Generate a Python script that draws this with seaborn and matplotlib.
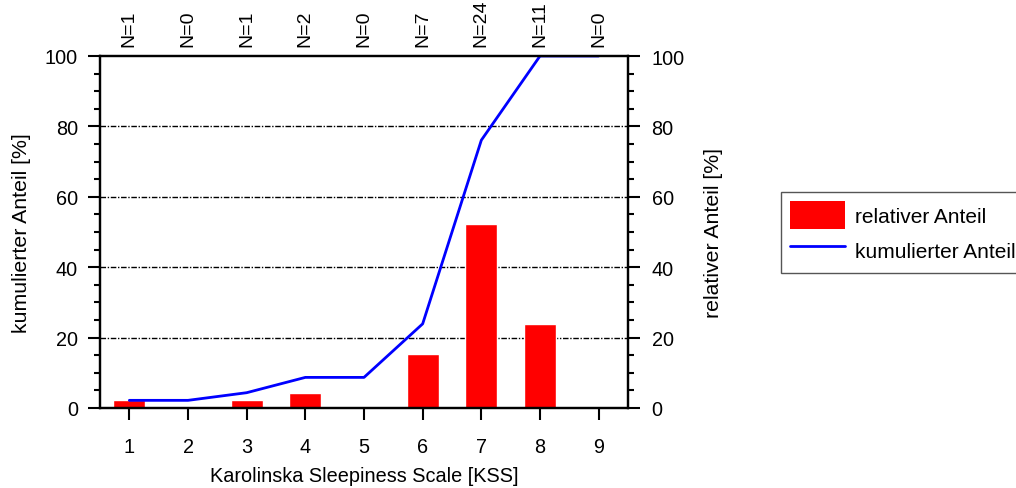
import matplotlib
matplotlib.use("Agg")
import matplotlib.pyplot as plt
from matplotlib.patches import Patch
from matplotlib.lines import Line2D
from matplotlib.ticker import MultipleLocator
import seaborn as sns
import pandas as pd

# KSS ratings and number of responses per rating
kss = [1, 2, 3, 4, 5, 6, 7, 8, 9]
counts = [1, 0, 1, 2, 0, 7, 24, 11, 0]
total = sum(counts)
relative = [100 * c / total for c in counts]
cumulative = []
run = 0
for c in counts:
    run += c
    cumulative.append(100 * run / total)
n_labels = [f"N={c}" for c in counts]

df = pd.DataFrame({"KSS": kss, "relativ": relative, "kumuliert": cumulative})

sns.set_style("ticks")
plt.rcParams["font.family"] = ["Liberation Sans", "DejaVu Sans"]
plt.rcParams["font.size"] = 14
for key in ["text.color", "axes.labelcolor", "xtick.color", "ytick.color",
            "axes.edgecolor"]:
    plt.rcParams[key] = "black"

FS = 14.3
FS_Y = 15.3

fig = plt.figure(figsize=(10.16, 4.89), dpi=100)
ax = fig.add_axes([100 / 1016, 1 - 409 / 489, 528 / 1016, 352 / 489])

sns.barplot(data=df, x="KSS", y="relativ", native_scale=True, color="#ff0000",
            saturation=1, width=0.54, ax=ax, zorder=2)
sns.lineplot(data=df, x="KSS", y="kumuliert", color="#0000ff", linewidth=2,
             ax=ax, zorder=3)

ax.set_xlim(0.5, 9.5)
ax.set_ylim(0, 100)
ax.set_xticks(kss)
ax.set_xticklabels([str(k) for k in kss])
ax.yaxis.set_major_locator(MultipleLocator(20))
ax.yaxis.set_minor_locator(MultipleLocator(5))
ax.set_xlabel("Karolinska Sleepiness Scale [KSS]", fontsize=FS, labelpad=7)
ax.set_ylabel("kumulierter Anteil [%]", fontsize=FS_Y, labelpad=10)

for y in [20, 40, 60, 80]:
    ax.axhline(y, color="black", linewidth=1, linestyle=(0, (4, 1.2, 1, 1.2)), zorder=1)

for side in ["left", "right", "top", "bottom"]:
    ax.spines[side].set_visible(True)
    ax.spines[side].set_linewidth(1.6)
    ax.spines[side].set_color("black")
    ax.spines[side].set_zorder(4)

ax.tick_params(axis="x", which="major", length=8.5, width=1.5, labelsize=FS, pad=12.5)
ax.tick_params(axis="y", which="major", length=8.5, width=1.5, labelsize=FS, pad=7.5)
ax.tick_params(axis="y", which="minor", length=4.3, width=1.5)
ax.tick_params(axis="x", which="minor", length=0)

# right-hand axis for the relative share
axr = ax.twinx()
axr.set_ylim(0, 100)
axr.yaxis.set_major_locator(MultipleLocator(20))
axr.yaxis.set_minor_locator(MultipleLocator(5))
axr.tick_params(axis="y", which="major", length=8.5, width=1.5, labelsize=FS, pad=8.5)
axr.tick_params(axis="y", which="minor", length=4.3, width=1.5)
axr.set_ylabel("relativer Anteil [%]", fontsize=FS_Y, labelpad=14)
for side in ["left", "right", "top", "bottom"]:
    axr.spines[side].set_linewidth(1.6)

# response counts along the top
top = ax.secondary_xaxis("top")
top.set_xticks(kss)
top.set_xticklabels(n_labels, rotation=90, fontsize=14)
top.tick_params(length=0, pad=7.5)
top.spines["top"].set_visible(False)

handles = [Patch(facecolor="#ff0000", edgecolor="none", label="relativer Anteil"),
           Line2D([0], [0], color="#0000ff", linewidth=2, label="kumulierter Anteil")]
fig.legend(handles=handles, loc="upper left", bbox_to_anchor=(781 / 1016, 1 - 193 / 489),
           borderaxespad=0, frameon=True, fancybox=False, edgecolor="#555555",
           fontsize=15, handlelength=2.6, handleheight=1.65, borderpad=0.45,
           labelspacing=0.35, handletextpad=0.5, framealpha=1)

fig.savefig("out.png", dpi=100)
